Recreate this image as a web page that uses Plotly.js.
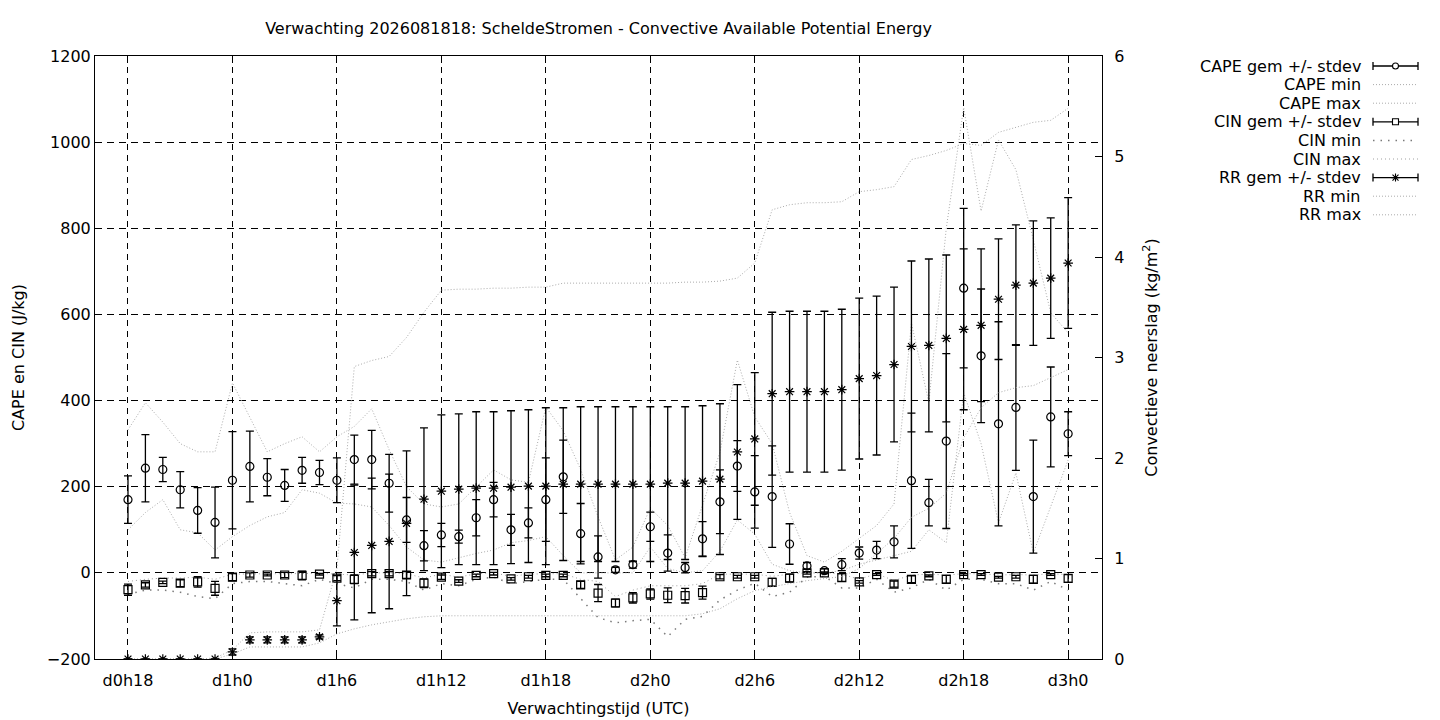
<!DOCTYPE html>
<html>
<head>
<meta charset="utf-8">
<script src="https://cdn.plot.ly/plotly-3.0.1.min.js"></script>
<style>
  html, body { margin: 0; padding: 0; background: #fff; }
  #chart { width: 1440px; height: 720px; }
</style>
</head>
<body>
<div id="chart"></div>
<script>
// uren na d0h18
const hours = [0,1,2,3,4,5,6,7,8,9,10,11,12,13,14,15,16,17,18,19,20,21,22,23,24,25,26,27,28,29,30,31,32,33,34,35,36,37,38,39,40,41,42,43,44,45,46,47,48,49,50,51,52,53,54];
const tickHours = [0, 6, 12, 18, 24, 30, 36, 42, 48, 54];
const tickLabels = ['d0h18', 'd1h0', 'd1h6', 'd1h12', 'd1h18', 'd2h0', 'd2h6', 'd2h12', 'd2h18', 'd3h0'];

const capeMean = [170,243,240,193,145,117,215,247,222,203,238,233,215,263,263,208,123,63,88,84,128,170,100,116,170,223,91,37,7,19,107,46,12,79,165,248,188,177,67,16,5,19,46,53,72,214,163,306,661,504,346,384,177,362,323];
const capeSd = [55,78,28,42,53,82,113,82,43,37,30,28,52,57,68,67,52,35,27,15,42,40,36,35,97,85,70,49,6,8,34,42,12,40,74,59,84,118,47,8,5,14,14,20,37,157,54,203,185,155,237,146,131,116,51];
const capeMin = [100,140,170,100,93,53,84,110,130,140,193,185,162,160,153,110,60,30,25,35,45,53,70,75,84,40,0,0,0,0,60,10,0,5,50,123,90,20,5,0,0,5,20,30,40,50,100,70,418,300,116,232,46,153,262];
const capeMax = [332,395,350,300,281,281,441,360,281,300,316,281,316,340,381,286,200,160,153,160,200,239,216,210,385,330,240,130,30,60,150,110,35,160,280,494,362,300,140,40,25,50,80,110,160,580,395,800,1080,840,1005,936,773,604,557];

const cinMean = [-39,-28,-22,-24,-21,-36,-10,-5,-5,-5,-6,-3,-12,-15,-2,-2,-5,-24,-10,-19,-6,-2,-14,-9,-6,-6,-28,-47,-70,-58,-49,-52,-53,-46,-9,-9,-9,-22,-12,0,0,-11,-21,-4,-26,-15,-7,-15,-4,-4,-10,-9,-15,-4,-13];
const cinSd = [13,5,3,8,12,16,8,5,2,6,10,2,6,10,5,5,8,10,5,3,3,3,3,3,3,3,8,20,9,12,12,17,17,15,5,3,3,9,9,3,2,9,3,2,7,8,2,9,2,2,2,3,9,2,9];
const cinMin = [-50,-40,-40,-45,-55,-60,-25,-20,-20,-25,-30,-15,-25,-35,-15,-15,-20,-40,-25,-30,-15,-10,-25,-20,-15,-15,-60,-104,-116,-111,-108,-148,-108,-101,-63,-40,-24,-55,-45,-10,-8,-35,-35,-15,-45,-35,-15,-40,-15,-15,-25,-25,-40,-20,-40];
const cinMax = [-20,-15,-12,-12,-10,-15,-3,-2,-2,-2,-2,-1,-3,-5,0,0,-2,-12,-3,-10,-2,0,-8,-3,-2,-2,-15,-20,-55,-40,-30,-30,-30,-25,-3,-3,-3,-8,-3,0,0,-3,-15,-2,-18,-5,-3,-5,-2,-2,-5,-4,-5,-2,-4];

const rrMean = [0,0,0,0,0,0,0.07,0.19,0.19,0.19,0.19,0.22,0.58,1.06,1.13,1.17,1.35,1.59,1.67,1.69,1.70,1.70,1.71,1.72,1.72,1.74,1.74,1.74,1.74,1.74,1.74,1.75,1.75,1.77,1.79,2.06,2.19,2.64,2.66,2.66,2.66,2.68,2.79,2.82,2.93,3.11,3.12,3.19,3.28,3.32,3.58,3.72,3.74,3.79,3.94];
const rrSd = [0,0,0,0,0,0,0.03,0.03,0.03,0.03,0.03,0.02,0.25,0.67,0.67,0.67,0.72,0.71,0.76,0.75,0.76,0.76,0.76,0.76,0.78,0.76,0.77,0.77,0.77,0.77,0.77,0.76,0.76,0.75,0.75,0.67,0.66,0.81,0.8,0.8,0.8,0.8,0.8,0.79,0.77,0.85,0.86,0.83,0.8,0.76,0.6,0.6,0.62,0.6,0.65];
const rrMin = [0,0,0,0,0,0,0.05,0.12,0.12,0.12,0.12,0.16,0.25,0.3,0.34,0.37,0.4,0.42,0.43,0.43,0.43,0.43,0.43,0.43,0.43,0.43,0.43,0.43,0.43,0.43,0.43,0.43,0.43,0.45,0.5,0.6,0.68,0.72,0.75,0.78,0.8,0.82,0.9,1.05,1.2,1.41,1.5,1.65,2.2,2.5,2.65,2.7,2.72,2.8,2.88];
const rrMax = [0,0,0,0,0,0.01,0.09,0.26,0.27,0.27,0.27,0.29,0.9,2.91,2.97,3.01,3.2,3.45,3.67,3.68,3.68,3.69,3.69,3.7,3.7,3.74,3.74,3.74,3.74,3.74,3.74,3.74,3.75,3.75,3.76,3.79,3.94,4.47,4.52,4.54,4.54,4.55,4.65,4.67,4.7,4.97,5.01,5.06,5.13,5.11,5.24,5.29,5.34,5.36,5.48];

// plot-gebied in pixels, zoals in de gnuplot-uitvoer
const PLOT_L = 95, PLOT_R = 1102, PLOT_T = 56, PLOT_B = 659;
const FONT = 'DejaVu Sans';

const DOTTED = { color: '#ababab', dash: '1px,2px', width: 1 };
const CIN_MIN = { color: '#7a7a7a', dash: '1.5px,6px', width: 1.5 };
const CIN_MAX = { color: '#a0a0a0', dash: '1px,3px', width: 1 };

function paperX(px) { return (px - PLOT_L) / (PLOT_R - PLOT_L) }
function paperY(py) { return (PLOT_B - py) / (PLOT_B - PLOT_T) }

function rangeLine(name, y, axis, style) {
    return {
        x: hours, y: y, yaxis: axis,
        type: 'scatter', mode: 'lines', name: name,
        hoverinfo: 'skip',
        line: { color: style.color, dash: style.dash, width: style.width }
    }
}

function statPoints(name, y, sd, axis, symbol, size) {
    return {
        x: hours, y: y, yaxis: axis,
        type: 'scatter', mode: 'markers', name: name,
        marker: { symbol: symbol, size: size, color: 'black', line: { width: 1.2, color: 'black' } },
        error_y: { type: 'data', array: sd, visible: true, color: 'black', thickness: 1.3, width: 4 }
    }
}

const traces = [
    rangeLine('CAPE min', capeMin, 'y', DOTTED),
    rangeLine('CAPE max', capeMax, 'y', DOTTED),
    rangeLine('CIN min', cinMin, 'y', CIN_MIN),
    rangeLine('CIN max', cinMax, 'y', CIN_MAX),
    statPoints('CAPE gem +/- stdev', capeMean, capeSd, 'y', 'circle-open', 8),
    statPoints('CIN gem +/- stdev', cinMean, cinSd, 'y', 'square-open', 8),
    rangeLine('RR min', rrMin, 'y2', DOTTED),
    rangeLine('RR max', rrMax, 'y2', DOTTED),
    statPoints('RR gem +/- stdev', rrMean, rrSd, 'y2', 'asterisk-open', 8),
];

// legenda zoals gnuplot: tekst rechts uitgelijnd, voorbeeld rechts ervan
const legendRows = [
    { name: 'CAPE gem +/- stdev', kind: 'bar', mark: 'circle' },
    { name: 'CAPE min', kind: 'line', style: DOTTED },
    { name: 'CAPE max', kind: 'line', style: DOTTED },
    { name: 'CIN gem +/- stdev', kind: 'bar', mark: 'square' },
    { name: 'CIN min', kind: 'line', style: CIN_MIN },
    { name: 'CIN max', kind: 'line', style: CIN_MAX },
    { name: 'RR gem +/- stdev', kind: 'bar', mark: 'star' },
    { name: 'RR min', kind: 'line', style: DOTTED },
    { name: 'RR max', kind: 'line', style: DOTTED },
];
const LEG_TOP = 66, LEG_STEP = 18.6, LEG_TEXT_R = 1363, LEG_S0 = 1373, LEG_S1 = 1418;

const annotations = [], shapes = [];
legendRows.forEach(function (row, i) {
    const py = LEG_TOP + i * LEG_STEP;
    annotations.push({
        xref: 'paper', yref: 'paper', x: paperX(LEG_TEXT_R), y: paperY(py),
        xanchor: 'right', yanchor: 'middle', showarrow: false,
        text: row.name, font: { family: FONT, size: 16, color: 'black' }
    });
    const mid = (LEG_S0 + LEG_S1) / 2, half = (LEG_S1 - LEG_S0) / 2;
    const base = {
        xref: 'paper', yref: 'paper', xsizemode: 'pixel', ysizemode: 'pixel',
        xanchor: paperX(mid), yanchor: paperY(py)
    };
    if (row.kind === 'line') {
        shapes.push({
            type: 'line', xref: 'paper', yref: 'paper',
            x0: paperX(LEG_S0), x1: paperX(LEG_S1), y0: paperY(py), y1: paperY(py),
            line: { color: row.style.color, dash: row.style.dash, width: row.style.width }
        });
        return;
    }
    shapes.push(Object.assign({}, base, {
        type: 'path',
        path: 'M' + (-half) + ',0H' + half + 'M' + (-half) + ',-4V4M' + half + ',-4V4',
        line: { color: 'black', width: 1.3 }
    }));
    if (row.mark === 'circle') {
        shapes.push(Object.assign({}, base, {
            type: 'circle', x0: -3, x1: 3, y0: -3, y1: 3,
            fillcolor: 'white', line: { color: 'black', width: 1.1 }
        }));
    } else if (row.mark === 'square') {
        shapes.push(Object.assign({}, base, {
            type: 'rect', x0: -3, x1: 3, y0: -3, y1: 3,
            fillcolor: 'white', line: { color: 'black', width: 1.1 }
        }));
    } else {
        shapes.push(Object.assign({}, base, {
            type: 'path', path: 'M-4,0H4M0,-4V4M-3,-3L3,3M-3,3L3,-3',
            line: { color: 'black', width: 1.1 }
        }));
    }
});

const axisCommon = {
    ticks: 'inside', ticklen: 7, tickwidth: 1, tickcolor: 'black',
    showline: true, linecolor: 'black', linewidth: 1,
    zeroline: false,
    tickfont: { family: FONT, size: 16, color: 'black' },
};

const layout = {
    width: 1440, height: 720,
    margin: { l: PLOT_L, r: 1440 - PLOT_R, t: PLOT_T, b: 720 - PLOT_B },
    paper_bgcolor: 'white', plot_bgcolor: 'white',
    showlegend: false,
    font: { family: FONT, size: 16, color: 'black' },
    title: {
        text: 'Verwachting 2026081818: ScheldeStromen - Convective Available Potential Energy',
        font: { family: FONT, size: 16, color: 'black' },
        xref: 'paper', x: 0.5, xanchor: 'center',
        yref: 'container', y: 1 - 28 / 720, yanchor: 'middle'
    },
    xaxis: Object.assign({}, axisCommon, {
        range: [-1.895, 55.945],
        tickvals: tickHours, ticktext: tickLabels,
        mirror: 'ticks',
        ticklabelstandoff: 7,
        showgrid: true, gridcolor: 'black', gridwidth: 1, griddash: '6px,5px',
        title: { text: 'Verwachtingstijd (UTC)', standoff: 13, font: { family: FONT, size: 16, color: 'black' } }
    }),
    yaxis: Object.assign({}, axisCommon, {
        range: [-200, 1200], tick0: -200, dtick: 200,
        mirror: true,
        showgrid: true, gridcolor: 'black', gridwidth: 1, griddash: '7px,5px',
        title: { text: 'CAPE en CIN (J/kg)', standoff: 18, font: { family: FONT, size: 16, color: 'black' } }
    }),
    yaxis2: Object.assign({}, axisCommon, {
        overlaying: 'y', side: 'right',
        range: [0, 6], tick0: 0, dtick: 1,
        ticklabelstandoff: 8,
        showgrid: false,
        title: { text: 'Convectieve neerslag (kg/m<sup>2</sup>)', standoff: 22, font: { family: FONT, size: 16, color: 'black' } }
    }),
    annotations: annotations,
    shapes: shapes
};

Plotly.newPlot('chart', traces, layout, { displayModeBar: false, staticPlot: true });
</script>
</body>
</html>
